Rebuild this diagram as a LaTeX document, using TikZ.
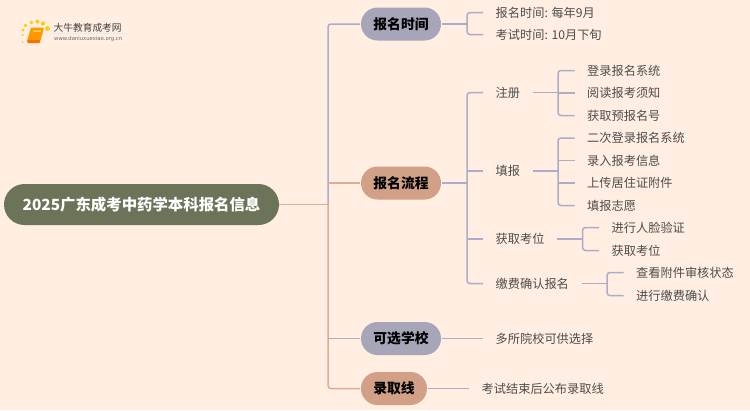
\documentclass[tikz,border=0pt]{standalone}
\usepackage{fontspec}
\setmainfont{Noto Sans CJK SC}
\newfontfamily\latinf{DejaVu Sans}
\definecolor{bgc}{HTML}{FFEEE1}
\definecolor{rootc}{HTML}{6B7358}
\definecolor{greyc}{HTML}{A7A6B8}
\definecolor{peachc}{HTML}{D2A086}
\definecolor{blueline}{HTML}{ADADC9}
\definecolor{peachline}{HTML}{DFAD93}
\definecolor{txtc}{HTML}{4D4D4D}
\tikzset{
 x=1pt,y=-1pt,
 rootbox/.style={fill=rootc,rounded corners=20.5pt,minimum width=275pt,minimum height=41pt,inner sep=0pt,text=white,font=\fontsize{15.4}{17}\selectfont\bfseries},
 pillbox/.style={rounded corners=16.5pt,minimum height=33pt,inner sep=0pt,text=black,font=\fontsize{13.8}{16}\selectfont\bfseries,outer sep=1pt},
 greypill/.style={pillbox,fill=greyc,minimum width=80pt},
 peachpill/.style={pillbox,fill=peachc},
 leaf/.style={anchor=west,inner xsep=12.5pt,inner ysep=0pt,text=txtc,font=\fontsize{12.2}{14}\selectfont},
 bline/.style={draw=blueline,line width=1.5pt,rounded corners=3pt},
 pline/.style={draw=peachline,line width=1.5pt,rounded corners=3pt},
}
\begin{document}
\begin{tikzpicture}
\useasboundingbox[fill=bgc] (0,0) rectangle (750,410);
% logo
\fill[black!8] (52,33.4) rectangle (130,34);
\foreach \px/\py/\r in {22.5/35/1.2,22.5/42/1,23/30/1.5,25.5/25.5/1.8,31.5/22.5/1.9,37.5/21.5/2,43/23.5/2.1,47.5/28.5/2.4} {\fill[yellow!65!orange] (\px,\py) circle[radius=\r];}
\fill[orange!80!yellow,rounded corners=1pt] (31,27.5) -- (44,27.5) -- (40.5,41) -- (27,41) -- cycle;
\fill[orange!85!red,rounded corners=1pt] (27,40) -- (40.5,40) -- (40,43) -- (27.5,43) -- cycle;
\fill[yellow!50!white] (33.5,30.5) -- (41,30.5) -- (40.6,31.5) -- (33.2,31.5) -- cycle;
\node[anchor=west,inner sep=0pt,text=black!75,font=\fontsize{9.7}{12}\selectfont] (logot) at (53.5,27.5) {大牛教育成考网};
\node[anchor=west,inner sep=0pt,text=black!60,font=\latinf\fontsize{5.3}{6}\selectfont] (logou) at (54,39) {www.daniuxuexiao.org.cn};
% root and pills
\node[rootbox] (root) at (141.5,204.5) {2025广东成考中药学本科报名信息};
\coordinate (trunk) at (328,204.5);
\node[greypill] (p1) at (401,24) {报名时间};
\node[peachpill,minimum width=80pt] (p2) at (401,183) {报名流程};
\node[greypill] (p3) at (401,338.5) {可选学校};
\node[peachpill,minimum width=66pt] (p4) at (394,388.5) {录取线};
% leaves
\node[leaf] (a1) at (483,12.5) {报名时间: 每年9月};
\node[leaf] (a2) at (483,34.5) {考试时间: 10月下旬};
\node[leaf] (b1) at (483,92.5) {注册};
\node[leaf] (b2) at (483,171) {填报};
\node[leaf] (b3) at (483,239) {获取考位};
\node[leaf] (b4) at (483,283.5) {缴费确认报名};
\node[leaf] (c1) at (574.5,70.5) {登录报名系统};
\node[leaf] (c2) at (574.5,93) {阅读报考须知};
\node[leaf] (c3) at (574.5,115.5) {获取预报名号};
\node[leaf] (d1) at (574.5,138) {二次登录报名系统};
\node[leaf] (d2) at (574.5,160.5) {录入报考信息};
\node[leaf] (d3) at (574.5,183) {上传居住证附件};
\node[leaf] (d4) at (574.5,205.5) {填报志愿};
\node[leaf] (e1) at (599,227.5) {进行人脸验证};
\node[leaf] (e2) at (599,250.5) {获取考位};
\node[leaf] (f1) at (623.5,272.5) {查看附件审核状态};
\node[leaf] (f2) at (623.5,295.5) {进行缴费确认};
\node[leaf] (g1) at (483,338.5) {多所院校可供选择};
\node[leaf] (h1) at (469,388.5) {考试结束后公布录取线};
% junctions
\coordinate (ja) at (467,24);
\coordinate (jb) at (467,183);
\coordinate (jc) at (558,92.5);
\coordinate (jd) at (558,171);
\coordinate (je) at (582.5,239);
\coordinate (jf) at (607,283.5);
% main connectors
\draw[pline] (root.east) -- (trunk);
\draw[bline] (trunk) |- (p1.west);
\draw[pline] (trunk) |- (p4.west);
\draw[pline,rounded corners=0pt] (trunk |- p2.west) -- (p2.west);
\draw[bline,rounded corners=0pt] (p3.west) -- (trunk |- p3.west);
% second level stems
\foreach \s/\j in {p1/ja,p2/jb,b1/jc,b2/jd,b3/je,b4/jf} {\draw[bline] (\s.east) -- (\j);}
% brackets
\foreach \t/\u/\j in {a1/a2/ja,b1/b4/jb,c1/c3/jc,d1/d4/jd,e1/e2/je,f1/f2/jf} {
  \draw[bline] (\t.west) -- (\t.west -| \j) -- (\u.west -| \j) -- (\u.west);
}
% middle stubs
\foreach \t/\j in {b2/jb,b3/jb,c2/jc,d2/jd,d3/jd} {\draw[bline] (\t.west -| \j) -- (\t.west);}
\draw[bline] (p3.east) -- (g1.west);
\draw[bline] (p4.east) -- (h1.west);
\end{tikzpicture}
\end{document}
